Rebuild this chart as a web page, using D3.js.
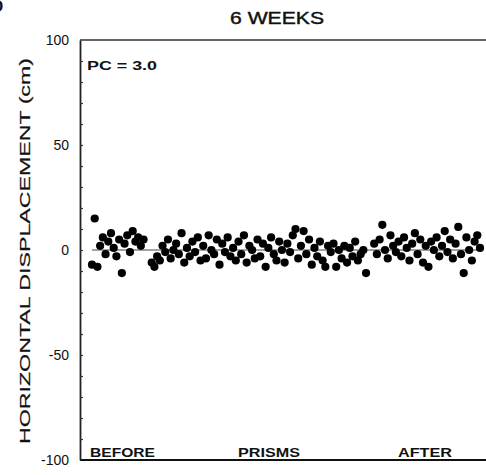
<!DOCTYPE html>
<html>
<head>
<meta charset="utf-8">
<script src="https://cdn.jsdelivr.net/npm/d3@7"></script>
<style>
  body { margin: 0; background: #fff; }
  text { font-family: "Liberation Sans", Arial, sans-serif; fill: #111; }
</style>
</head>
<body>
<div id="chart"></div>
<script>
// horizontal displacement (cm) per trial
var beforeVals = [-7, 15, -8, 2, 6, -2, 4, 8, 1, -3, 5, -11, 3, 7, -1, 9, 4, 6, 2, 5];
var prismVals = [-6, -8, -3, -5, 2, -1, 5, -4, 0, 3,
                 -2, 8, -6, 1, -3, 4, -1, 6, -5, 2,
                 -4, 7, 0, -2, 5, -7, 3, -1, 6, -3,
                 1, -5, 4, -2, 7, -6, 2, 0, -4, 5,
                 -3, 3, -8, 1, 6, -2, -5, 4, 0, -6,
                 3, -1, 7, 10, -4, 2, 9, -2, 5, -7,
                 1, -3, 4, -5, -8, 2, -1, 3, -8, 0,
                 -4, 2, -6, 1, -3, 4, -5, -2, 0, -11];
var afterVals = [3, -2, 5, 12, 0, -4, 7, 2, -1, 4,
                 -3, 6, 1, -5, 3, 8, -2, 5, -6, 2,
                 -8, 4, 0, 6, -3, 2, 9, -1, 5, -4,
                 3, 11, -2, -11, 6, 0, -5, 4, 7, 1];
var phaseLabels = ["BEFORE", "PRISMS", "AFTER"];
var yTicks = [-100, -50, 0, 50, 100];
var title = "6 WEEKS";
var note = "PC = 3.0";

// set the dimensions and margins of the graph
var margin = {top: 40, left: 80, bottom: 460},
  width = 486,
  height = 475;

var svg = d3.select("#chart")
  .append("svg")
    .attr("width", width)
    .attr("height", height);

// trial numbering: a gap of two trials between phases
var points = [];
beforeVals.forEach(function(v, i) { points.push({t: i + 1, v: v}); });
prismVals.forEach(function(v, i) { points.push({t: i + 23, v: v}); });
afterVals.forEach(function(v, i) { points.push({t: i + 105, v: v}); });

var x = d3.scaleLinear().domain([1, 144]).range([92, 480]);
var y = d3.scaleLinear().domain([-100, 100]).range([margin.bottom, margin.top]);

// frame: top and bottom lines
svg.append("line")
  .attr("x1", margin.left).attr("x2", width)
  .attr("y1", margin.top).attr("y2", margin.top)
  .attr("stroke", "#333").attr("stroke-width", 1.6);
svg.append("line")
  .attr("x1", margin.left).attr("x2", width)
  .attr("y1", margin.bottom).attr("y2", margin.bottom)
  .attr("stroke", "#111").attr("stroke-width", 1.8);

// left axis with labels
var yAxis = svg.append("g")
  .attr("transform", "translate(" + margin.left + ",0)")
  .call(d3.axisLeft(y).tickValues(yTicks).tickSize(0).tickPadding(11)
    .tickFormat(function(d) { return d; }));
yAxis.select(".domain").attr("stroke", "#222").attr("stroke-width", 1.8);
yAxis.selectAll("text")
  .style("font-size", "14px")
  .style("font-family", "Liberation Sans, Arial, sans-serif")
  .attr("fill", "#222");

// minor ticks every 10 cm, pointing inward
var minor = svg.append("g")
  .attr("transform", "translate(" + margin.left + ",0)")
  .call(d3.axisRight(y).tickValues(d3.range(-90, 100, 10)).tickSize(3).tickFormat(""));
minor.select(".domain").remove();
minor.selectAll("line").attr("stroke", "#333").attr("stroke-width", 1.2);

// zero reference line
svg.append("line")
  .attr("x1", x(1)).attr("x2", x(144))
  .attr("y1", y(0)).attr("y2", y(0))
  .attr("stroke", "#444").attr("stroke-width", 1);

// data points
svg.append("g")
  .selectAll("circle")
  .data(points)
  .enter()
  .append("circle")
    .attr("cx", function(d) { return x(d.t); })
    .attr("cy", function(d) { return y(d.v); })
    .attr("r", 4.1)
    .attr("fill", "#000");

// title
svg.append("text")
  .attr("x", 277).attr("y", 24)
  .attr("text-anchor", "middle")
  .attr("textLength", 94).attr("lengthAdjust", "spacingAndGlyphs")
  .attr("stroke", "#111").attr("stroke-width", 0.4)
  .style("font-size", "17px")
  .text(title);

// y axis label
svg.append("text")
  .attr("transform", "translate(30,251) rotate(-90)")
  .attr("text-anchor", "middle")
  .attr("textLength", 386).attr("lengthAdjust", "spacingAndGlyphs")
  .attr("stroke", "#111").attr("stroke-width", 0.2)
  .style("font-size", "15px")
  .text("HORIZONTAL DISPLACEMENT (cm)");

// PC note
svg.append("text")
  .attr("x", 87).attr("y", 70)
  .attr("textLength", 70).attr("lengthAdjust", "spacingAndGlyphs")
  .style("font-size", "13px")
  .style("font-weight", "bold")
  .text(note);

// phase labels along the bottom
var phaseX = [90, 238, 398];
var phaseW = [65, 62, 54];
svg.append("g")
  .selectAll("text")
  .data(phaseLabels)
  .enter()
  .append("text")
    .attr("x", function(d, i) { return phaseX[i]; })
    .attr("y", 457)
    .attr("textLength", function(d, i) { return phaseW[i]; })
    .attr("lengthAdjust", "spacingAndGlyphs")
    .style("font-size", "13px")
    .style("font-weight", "bold")
    .text(function(d) { return d; });

// cropped panel letter in the corner
svg.append("text")
  .attr("x", -9).attr("y", 12)
  .style("font-size", "17px")
  .style("font-weight", "bold")
  .attr("fill", "#000")
  .text("D");
</script>
</body>
</html>
